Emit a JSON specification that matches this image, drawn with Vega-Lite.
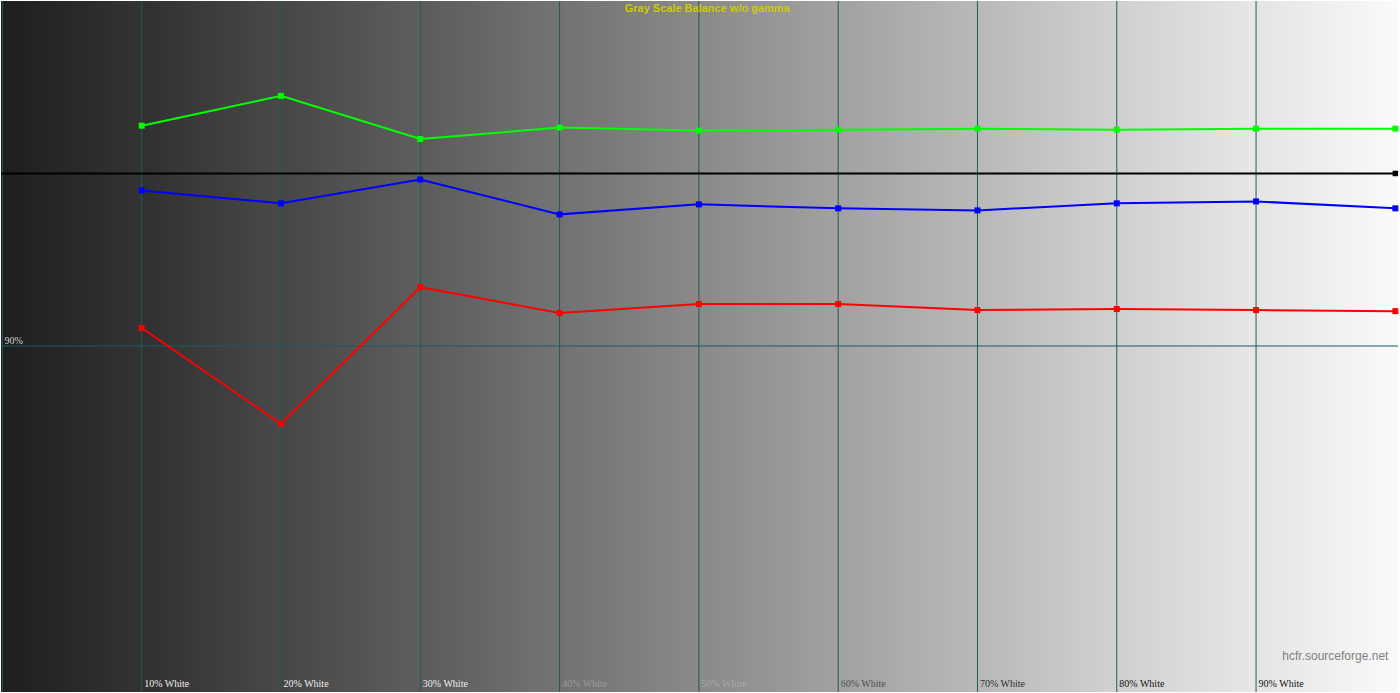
{
  "$schema": "https://vega.github.io/schema/vega-lite/v6.json",
  "autosize": {"type": "fit", "contains": "padding"},
  "width": 1400,
  "height": 693,
  "padding": 0,
  "background": "#ffffff",
  "config": {"view": {"stroke": null}},
  "datasets": {
    "bg": [{"x0": -0.1, "x1": 100.19}],
    "grid": [{"x": 0}, {"x": 10}, {"x": 20}, {"x": 30}, {"x": 40}, {"x": 50}, {"x": 60}, {"x": 70}, {"x": 80}, {"x": 90}],
    "series": [
      {"x": 10, "value": 102.77, "channel": "Green"},
      {"x": 20, "value": 104.5, "channel": "Green"},
      {"x": 30, "value": 102.0, "channel": "Green"},
      {"x": 40, "value": 102.66, "channel": "Green"},
      {"x": 50, "value": 102.49, "channel": "Green"},
      {"x": 60, "value": 102.54, "channel": "Green"},
      {"x": 70, "value": 102.6, "channel": "Green"},
      {"x": 80, "value": 102.54, "channel": "Green"},
      {"x": 90, "value": 102.6, "channel": "Green"},
      {"x": 100, "value": 102.6, "channel": "Green"},
      {"x": 10, "value": 99.02, "channel": "Blue"},
      {"x": 20, "value": 98.27, "channel": "Blue"},
      {"x": 30, "value": 99.65, "channel": "Blue"},
      {"x": 40, "value": 97.63, "channel": "Blue"},
      {"x": 50, "value": 98.21, "channel": "Blue"},
      {"x": 60, "value": 97.98, "channel": "Blue"},
      {"x": 70, "value": 97.86, "channel": "Blue"},
      {"x": 80, "value": 98.27, "channel": "Blue"},
      {"x": 90, "value": 98.38, "channel": "Blue"},
      {"x": 100, "value": 97.98, "channel": "Blue"},
      {"x": 10, "value": 91.04, "channel": "Red"},
      {"x": 20, "value": 85.49, "channel": "Red"},
      {"x": 30, "value": 93.41, "channel": "Red"},
      {"x": 40, "value": 91.91, "channel": "Red"},
      {"x": 50, "value": 92.43, "channel": "Red"},
      {"x": 60, "value": 92.43, "channel": "Red"},
      {"x": 70, "value": 92.08, "channel": "Red"},
      {"x": 80, "value": 92.14, "channel": "Red"},
      {"x": 90, "value": 92.08, "channel": "Red"},
      {"x": 100, "value": 92.02, "channel": "Red"}
    ],
    "ref": [{"x": 100, "value": 100}],
    "note": [{"x": 99.5, "value": 72.0, "text": "hcfr.sourceforge.net"}],
    "title": [{"x": 50.6, "value": 109.55, "text": "Gray Scale Balance w/o gamma"}]
  },
  "layer": [
    {
      "data": {"name": "bg"},
      "mark": {
        "type": "rect",
        "fill": {
          "gradient": "linear",
          "x1": 0, "y1": 0, "x2": 1, "y2": 0,
          "stops": [
            {"offset": 0, "color": "#1e1e1e"},
            {"offset": 0.1007, "color": "#333333"},
            {"offset": 0.1007, "color": "#303030"},
            {"offset": 0.2004, "color": "#494949"},
            {"offset": 0.2004, "color": "#464646"},
            {"offset": 0.3001, "color": "#5e5e5e"},
            {"offset": 0.3001, "color": "#5b5b5b"},
            {"offset": 0.3999, "color": "#747474"},
            {"offset": 0.3999, "color": "#717171"},
            {"offset": 0.4996, "color": "#8a8a8a"},
            {"offset": 0.4996, "color": "#898989"},
            {"offset": 0.5993, "color": "#a2a2a2"},
            {"offset": 0.5993, "color": "#a1a1a1"},
            {"offset": 0.699, "color": "#b9b9b9"},
            {"offset": 0.699, "color": "#b8b8b8"},
            {"offset": 0.7987, "color": "#d1d1d1"},
            {"offset": 0.7987, "color": "#cfcfcf"},
            {"offset": 0.8984, "color": "#e7e7e7"},
            {"offset": 0.8984, "color": "#e4e4e4"},
            {"offset": 1, "color": "#fafafa"}
          ]
        }
      },
      "encoding": {
        "x": {
          "field": "x0",
          "type": "quantitative",
          "scale": {"domain": [-0.1, 100.19], "nice": false, "zero": false},
          "axis": {
            "values": [10, 20, 30, 40, 50, 60, 70, 80, 90],
            "orient": "bottom",
            "domain": false,
            "ticks": false,
            "grid": false,
            "title": null,
            "labelExpr": "datum.value + '% White'",
            "labelAlign": "left",
            "labelBaseline": "bottom",
            "labelPadding": -4,
            "labelOffset": 2,
            "labelFont": "Liberation Serif",
            "labelFontSize": 10,
            "labelOverlap": false,
            "labelFlush": false,
            "labelColor": {
              "condition": [
                {"test": "datum.value <= 30", "value": "#eeeeee"},
                {"test": "datum.value <= 40", "value": "#9a9a9a"},
                {"test": "datum.value <= 50", "value": "#a8a8a8"},
                {"test": "datum.value <= 60", "value": "#505050"},
                {"test": "datum.value <= 70", "value": "#303030"}
              ],
              "value": "#111111"
            },
            "zindex": 1
          }
        },
        "x2": {"field": "x1"}
      }
    },
    {
      "data": {"name": "grid"},
      "mark": {"type": "rule", "color": "#1f5c5c", "strokeWidth": 1},
      "encoding": {
        "x": {"field": "x", "type": "quantitative"}
      }
    },
    {
      "data": {"values": [{"value": 90}]},
      "mark": {"type": "rule", "color": "#1f5c5c", "strokeWidth": 1},
      "encoding": {
        "y": {
          "field": "value",
          "type": "quantitative",
          "scale": {"domain": [69.94, 110], "nice": false, "zero": false},
          "axis": {
            "values": [90],
            "orient": "left",
            "domain": false,
            "ticks": false,
            "grid": false,
            "title": null,
            "labelExpr": "datum.value + '%'",
            "labelAlign": "left",
            "labelBaseline": "bottom",
            "labelPadding": -3,
            "labelColor": "#d0d0d0",
            "labelFont": "Liberation Serif",
            "labelFontSize": 10,
            "zindex": 1
          }
        }
      }
    },
    {
      "data": {"values": [{"value": 100}]},
      "mark": {"type": "rule", "color": "#000000", "strokeWidth": 2},
      "encoding": {
        "y": {"field": "value", "type": "quantitative"}
      }
    },
    {
      "data": {"name": "ref"},
      "mark": {"type": "point", "shape": "square", "filled": true, "size": 30, "color": "#000000", "opacity": 1},
      "encoding": {
        "x": {"field": "x", "type": "quantitative"},
        "y": {"field": "value", "type": "quantitative"}
      }
    },
    {
      "data": {"name": "series"},
      "mark": {"type": "line", "strokeWidth": 2},
      "encoding": {
        "x": {"field": "x", "type": "quantitative"},
        "y": {"field": "value", "type": "quantitative"},
        "color": {
          "field": "channel",
          "type": "nominal",
          "scale": {"domain": ["Red", "Green", "Blue"], "range": ["#ff0000", "#00ff00", "#0000ff"]},
          "legend": null
        },
        "detail": {"field": "channel"}
      }
    },
    {
      "data": {"name": "series"},
      "mark": {"type": "point", "shape": "square", "filled": true, "size": 36, "opacity": 1},
      "encoding": {
        "x": {"field": "x", "type": "quantitative"},
        "y": {"field": "value", "type": "quantitative"},
        "color": {"field": "channel", "type": "nominal", "legend": null}
      }
    },
    {
      "data": {"name": "note"},
      "mark": {"type": "text", "align": "right", "baseline": "middle", "font": "Liberation Sans", "fontSize": 12, "color": "#808080"},
      "encoding": {
        "x": {"field": "x", "type": "quantitative"},
        "y": {"field": "value", "type": "quantitative"},
        "text": {"field": "text"}
      }
    },
    {
      "data": {"name": "title"},
      "mark": {"type": "text", "align": "center", "baseline": "middle", "font": "Liberation Sans", "fontSize": 11, "fontWeight": "bold", "color": "#cccc00"},
      "encoding": {
        "x": {"field": "x", "type": "quantitative"},
        "y": {"field": "value", "type": "quantitative"},
        "text": {"field": "text"}
      }
    }
  ]
}
